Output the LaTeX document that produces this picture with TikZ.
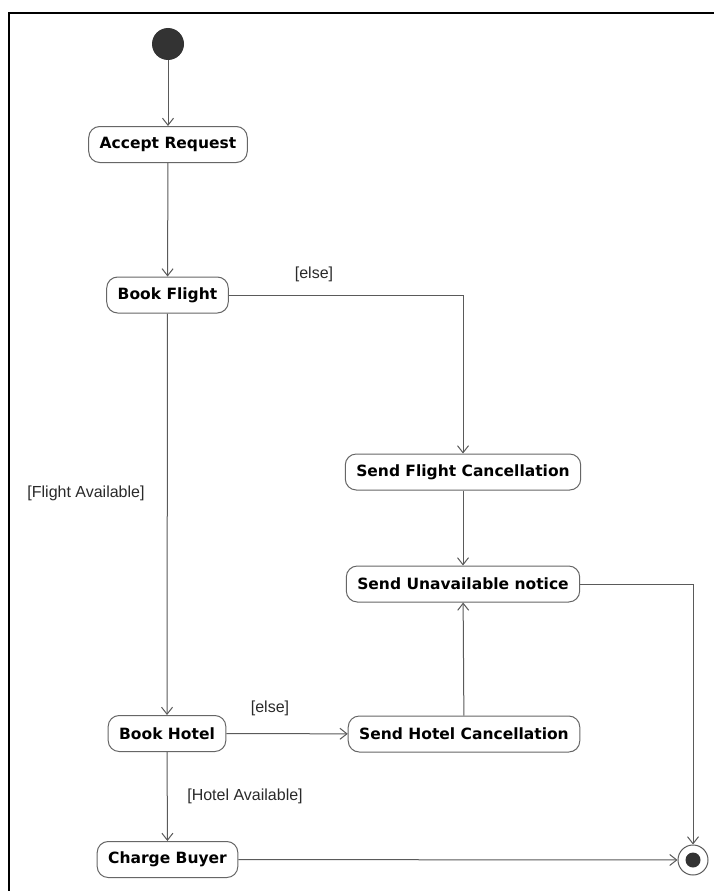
\documentclass[tikz,border=0pt]{standalone}
\usepackage{fontspec}
\setmainfont{DejaVu Sans}
\newfontfamily\guardfont{Liberation Sans}
\usetikzlibrary{arrows.meta}
\definecolor{linegray}{HTML}{5A5A5A}
\definecolor{boxgray}{HTML}{666666}
\definecolor{dotgray}{HTML}{333333}
\definecolor{guardgray}{HTML}{2A2A2A}
\tikzset{
  action/.style={draw=boxgray, line width=1pt, fill=white, rounded corners=11pt,
    minimum height=36pt, inner xsep=11pt, inner ysep=0pt,
    font=\fontsize{15.5}{18}\selectfont\bfseries, text=black},
  flow/.style={draw=linegray, line width=1pt,
    -{Straight Barb[length=7pt,width=11pt,line width=1pt]}},
  guard/.style={font=\guardfont\fontsize{16}{19}\selectfont, text=guardgray, inner sep=0pt},
  startnode/.style={circle, fill=dotgray, minimum size=32pt, inner sep=0pt},
  endnode/.style={circle, draw=linegray, line width=1pt, fill=white, minimum size=30pt, inner sep=0pt},
  frameline/.style={draw=black, line width=2.2pt}
}
\begin{document}
\begin{tikzpicture}[x=1pt,y=-1pt]
  \useasboundingbox (0,0) rectangle (714,891);
  \fill[white] (0,0) rectangle (714,891);

  % sheet frame (top and left edges)
  \coordinate (fl) at (9,891);
  \coordinate (fc) at (9,13);
  \coordinate (fr) at (714,13);
  \draw[frameline] (fl) -- (fc) -- (fr);

  % states
  \node[startnode] (init) at (168,44) {};
  \node[action] (accept) at (168,144.5) {Accept Request};
  \node[action] (flight) at (167.5,295) {Book Flight};
  \node[action] (sfc) at (463,472) {Send Flight Cancellation};
  \node[action] (sun) at (463,584) {Send Unavailable notice};
  \node[action] (hotel) at (167,733.5) {Book Hotel};
  \node[action] (shc) at (464,734) {Send Hotel Cancellation};
  \node[action] (charge) at (167.5,859.5) {Charge Buyer};
  \node[endnode] (final) at (693,860) {};
  \fill[dotgray] (final.center) circle (7.5pt);

  % transitions
  \draw[flow] (init) -- (accept);
  \draw[flow] (accept) -- (flight);
  \draw[flow] (flight.east) -| (sfc.north);
  \draw[flow] (flight) -- (hotel);
  \draw[flow] (sfc) -- (sun);
  \draw[flow] (shc) -- (sun);
  \draw[flow] (sun.east) -| (final.north);
  \draw[flow] (hotel) -- (shc);
  \draw[flow] (hotel) -- (charge);
  \draw[flow] (charge) -- (final);

  % guards
  \node[guard] (g1) at (314,274) {[else]};
  \node[guard] (g2) at (86,493) {[Flight Available]};
  \node[guard] (g3) at (270,708) {[else]};
  \node[guard] (g4) at (245,796) {[Hotel Available]};
\end{tikzpicture}
\end{document}
